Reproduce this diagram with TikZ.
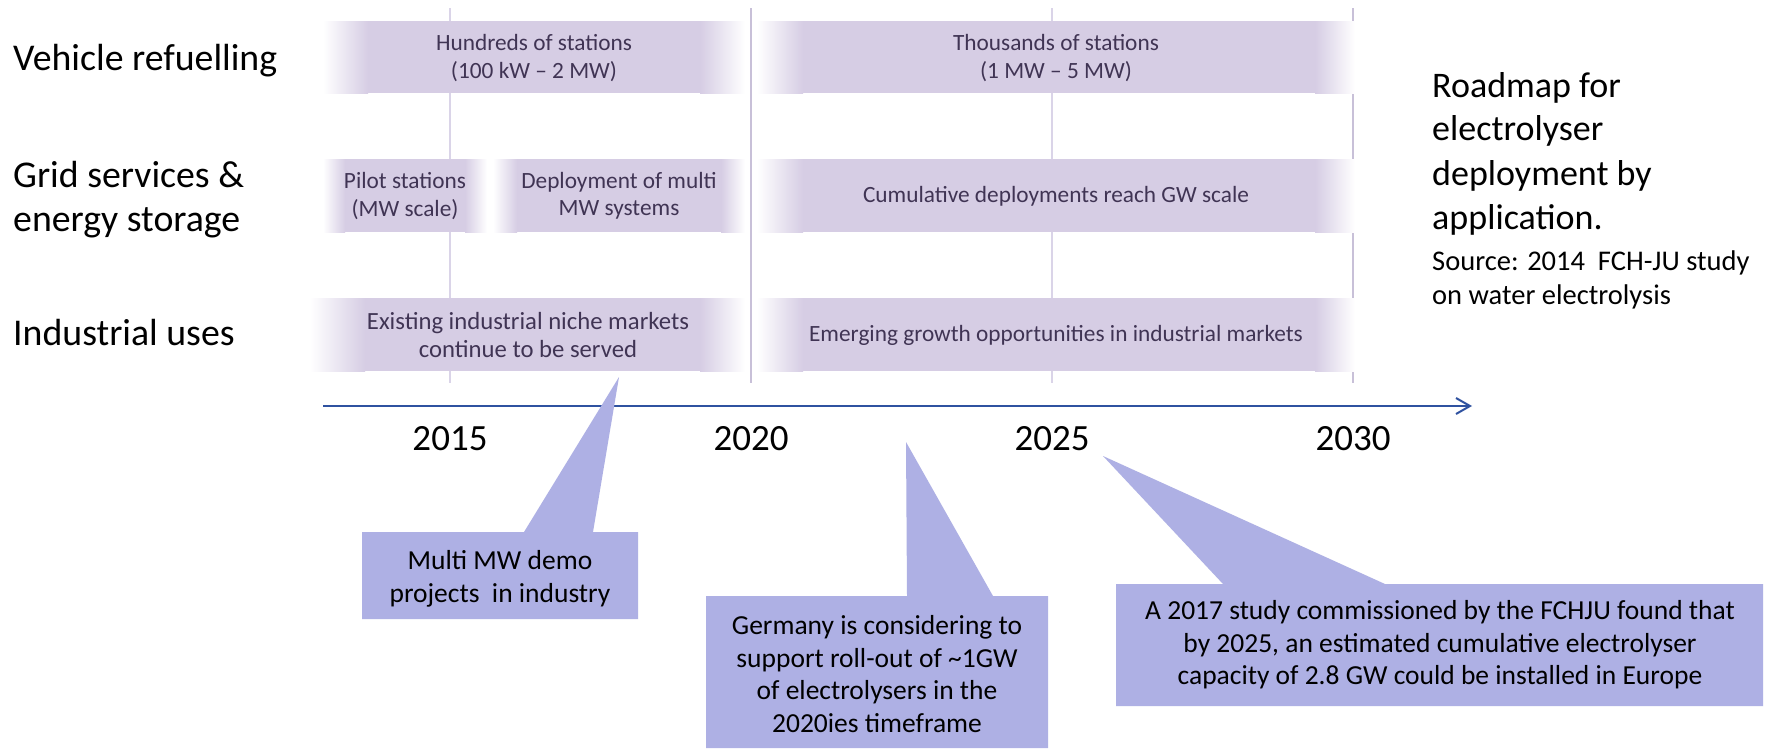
\documentclass[tikz,border=0pt]{standalone}
\usepackage{fontspec}
\setmainfont{Carlito}
\usetikzlibrary{arrows.meta}
\definecolor{bandc}{RGB}{214,205,228}
\definecolor{bandtext}{RGB}{64,52,84}
\definecolor{vline}{RGB}{218,212,232}
\definecolor{vlinedark}{RGB}{200,192,216}
\definecolor{callc}{RGB}{174,176,228}
\definecolor{axisc}{RGB}{47,82,160}
\newcommand{\fadeband}[6]{%
  \fill[bandc] ({#1+#5-0.5},#3) rectangle ({#2-#6+0.5},#4);
  \shade[left color=white,right color=bandc] (#1,#3) rectangle ({#1+#5},#4);
  \shade[left color=bandc,right color=white] ({#2-#6},#3) rectangle (#2,#4);
}
\tikzset{
  bandlabel/.style={text=bandtext, align=center, font=\fontsize{23.3}{27.5}\selectfont, inner sep=0pt},
  bandlabelbig/.style={bandlabel, font=\fontsize{24.7}{28.5}\selectfont},
  rowlabel/.style={anchor=base west, font=\fontsize{37.8}{44}\selectfont, inner sep=0pt},
  yearlabel/.style={anchor=base, font=\fontsize{37}{44}\selectfont, inner sep=0pt},
  calltext/.style={align=center, font=\fontsize{27.5}{32.5}\selectfont, inner sep=0pt},
  callout/.style={fill=callc},
  titlelabel/.style={anchor=base west, font=\fontsize{36}{44}\selectfont, inner sep=0pt},
  srclabel/.style={anchor=base west, font=\fontsize{28.5}{34}\selectfont, inner sep=0pt},
  gridline/.style={draw=vline, line width=1.6pt},
  gridlinedark/.style={draw=vlinedark, line width=1.8pt},
}
\begin{document}
\begin{tikzpicture}[x=1pt,y=-1pt]
\useasboundingbox (0,0) rectangle (1777,748);
\fill[white] (0,0) rectangle (1777,748);
% vertical year lines
\coordinate (l15t) at (450,8);   \coordinate (l15b) at (450,383);
\coordinate (l20t) at (751,8);   \coordinate (l20b) at (751,383);
\coordinate (l25t) at (1052,8);  \coordinate (l25b) at (1052,383);
\coordinate (l30t) at (1353,8);  \coordinate (l30b) at (1353,383);
\draw[gridline] (l15t) -- (l15b);
\draw[gridlinedark] (l20t) -- (l20b);
\draw[gridline] (l25t) -- (l25b);
\draw[gridlinedark] (l30t) -- (l30b);
% bands
\fadeband{323}{745}{21}{93}{45}{45}
\fadeband{757}{1355}{21}{93}{46}{40}
\fadeband{323}{487}{159}{232}{22}{22}
\fadeband{493}{745}{159}{232}{24}{24}
\fadeband{757}{1355}{159}{232}{46}{40}
\fadeband{310}{745}{298}{371}{55}{45}
\fadeband{757}{1355}{298}{371}{46}{40}
% band texts
\node[bandlabel] (hund) at (534,58) {Hundreds of stations\\(100 kW -- 2 MW)};
\node[bandlabel] (thou) at (1056,58) {Thousands of stations\\(1 MW -- 5 MW)};
\node[bandlabel] (pilot) at (405,196) {Pilot stations\\(MW scale)};
\node[bandlabel] (deploy) at (619,196) {Deployment of multi\\MW systems};
\node[bandlabel] (cumul) at (1056,196) {Cumulative deployments reach GW scale};
\node[bandlabelbig] (exist) at (528,335) {Existing industrial niche markets\\continue to be served};
\node[bandlabel] (emerg) at (1056,335) {Emerging growth opportunities in industrial markets};
% row labels
\node[rowlabel] (veh) at (13,70) {Vehicle refuelling};
\node[rowlabel] (grida) at (13,187) {Grid services \&};
\node[rowlabel] (gridb) at (13,231) {energy storage};
\node[rowlabel] (ind) at (13,345) {Industrial uses};
% axis
\coordinate (axs) at (323,406);
\coordinate (axe) at (1472,406);
\draw[axisc, line width=2pt, -{Straight Barb[length=14pt,width=16pt,line width=2pt]}] (axs) -- (axe);
% years
\node[yearlabel] (y15) at (450,450) {2015};
\node[yearlabel] (y20) at (751,450) {2020};
\node[yearlabel] (y25) at (1052,450) {2025};
\node[yearlabel] (y30) at (1353,450) {2030};
% title
\node[titlelabel] (t1) at (1432,97) {Roadmap for};
\node[titlelabel] (t2) at (1432,140) {electrolyser};
\node[titlelabel] (t3) at (1432,185) {deployment by};
\node[titlelabel] (t4) at (1432,229) {application.};
\node[srclabel] (s1) at (1432,270) {Source: 2014~ FCH-JU study};
\node[srclabel] (s2) at (1432,304) {on water electrolysis};
% callouts
\coordinate (tip1) at (619,377);
\coordinate (tip2) at (906,442);
\coordinate (tip3) at (1103,456);
\fill[callout] (362,532) -- (524,532) -- (tip1) -- (593,532) -- (638,532) -- (638,619) -- (362,619) -- cycle;
\fill[callout] (706,596) -- (907,596) -- (tip2) -- (993,596) -- (1048,596) -- (1048,748) -- (706,748) -- cycle;
\fill[callout] (1116,584) -- (1223,584) -- (tip3) -- (1385,584) -- (1763,584) -- (1763,706) -- (1116,706) -- cycle;
\node[calltext] (c1) at (500,579) {Multi MW demo\\projects~ in industry};
\node[calltext] (c2) at (877,674) {Germany is considering to\\support roll-out of \char`~1GW\\of electrolysers in the\\2020ies timeframe};
\node[calltext] (c3) at (1440,645) {A 2017 study commissioned by the FCHJU found that\\by 2025, an estimated cumulative electrolyser\\capacity of 2.8 GW could be installed in Europe};
\end{tikzpicture}
\end{document}
